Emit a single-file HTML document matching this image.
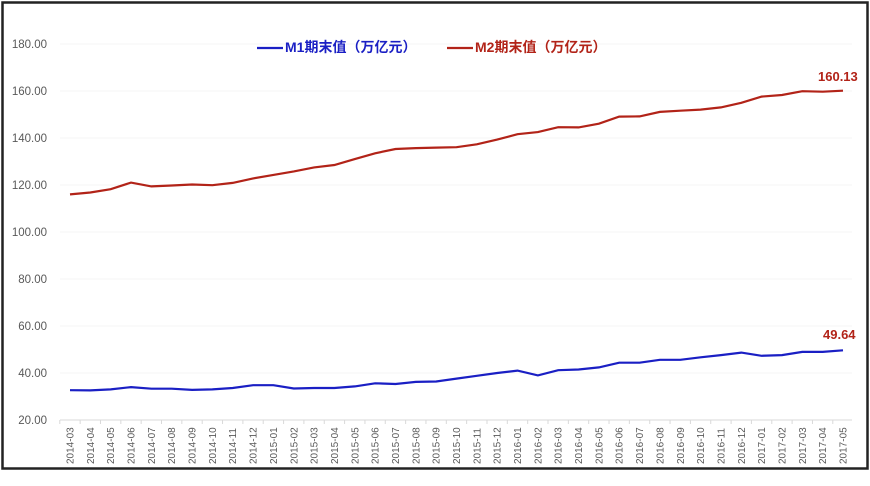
<!DOCTYPE html>
<html><head><meta charset="utf-8"><style>
html,body{margin:0;padding:0;background:#fff;}
svg{display:block;font-family:"Liberation Sans","Noto Sans CJK SC",sans-serif;}
</style></head><body>
<svg width="870" height="486" viewBox="0 0 870 486" xmlns="http://www.w3.org/2000/svg">
<rect x="2.5" y="2.5" width="865" height="466" fill="#fff" stroke="#222" stroke-width="2.5"/>
<g id="grid" stroke="#f4f4f4" stroke-width="1"></g>
<line x1="60" y1="420" x2="852" y2="420" stroke="#d9d9d9"/>
<g id="ylab" font-size="11.5" fill="#595959" text-anchor="end"></g>
<g id="xlab" font-size="10" fill="#595959"></g>
<polyline id="m2" fill="none" stroke="#b22318" stroke-width="2.2"/>
<polyline id="m1" fill="none" stroke="#1a1fc4" stroke-width="2.2"/>
<line x1="257" y1="48" x2="283" y2="48" stroke="#1a1fc4" stroke-width="2.2"/>
<text x="285" y="52" font-size="14" font-weight="bold" fill="#1a1fc4">M1期末值（万亿元）</text>
<line x1="447" y1="48" x2="473" y2="48" stroke="#b22318" stroke-width="2.2"/>
<text x="475" y="52" font-size="14" font-weight="bold" fill="#b22318">M2期末值（万亿元）</text>
<text x="818" y="81" font-size="13" font-weight="bold" fill="#b22318">160.13</text>
<text x="823" y="339" font-size="13" font-weight="bold" fill="#b22318">49.64</text>
</svg>
<script>
var m1=[32.7,32.6,33,34,33.3,33.3,32.8,33,33.6,34.8,34.8,33.4,33.6,33.6,34.3,35.6,35.3,36.2,36.4,37.6,38.8,40,41,39,41.2,41.5,42.4,44.4,44.4,45.6,45.6,46.7,47.6,48.7,47.3,47.6,49,49,49.64];
var m2=[116,116.8,118.2,121,119.4,119.8,120.2,119.9,120.9,122.8,124.3,125.8,127.5,128.5,131,133.5,135.3,135.7,135.9,136.1,137.3,139.3,141.6,142.5,144.6,144.5,146.1,149.1,149.2,151.1,151.6,152.1,153.0,155.0,157.6,158.3,159.9,159.7,160.13];
function X(i){return 70+i*(843-70)/38;}
function Y(v){return 420-(v-20)*(376/160);}
var ns="http://www.w3.org/2000/svg";
function pts(a){return a.map(function(v,i){return X(i).toFixed(1)+","+Y(v).toFixed(1)}).join(" ");}
document.getElementById("m1").setAttribute("points",pts(m1));
document.getElementById("m2").setAttribute("points",pts(m2));
var g=document.getElementById("grid"),yl=document.getElementById("ylab");
for(var v=20;v<=180;v+=20){
 if(v>20){var l=document.createElementNS(ns,"line");l.setAttribute("x1",60);l.setAttribute("x2",852);l.setAttribute("y1",Y(v));l.setAttribute("y2",Y(v));g.appendChild(l);}
 var t=document.createElementNS(ns,"text");t.setAttribute("x",47);t.setAttribute("y",Y(v)+4);t.textContent=v.toFixed(2);yl.appendChild(t);
}
var xl=document.getElementById("xlab");
for(var i=0;i<39;i++){
 var mo=i+2,yr=2014+Math.floor(mo/12),m=mo%12+1;
 var s=yr+"-"+(m<10?"0":"")+m;
 var t=document.createElementNS(ns,"text");
 var x=X(i)+3.5,y=464;
 t.setAttribute("transform","translate("+x+","+y+") rotate(-90)");
 t.textContent=s;xl.appendChild(t);
 var tk=document.createElementNS(ns,"line");tk.setAttribute("x1",X(i)-10.2);tk.setAttribute("x2",X(i)-10.2);tk.setAttribute("y1",420);tk.setAttribute("y2",424);tk.setAttribute("stroke","#d9d9d9");g.appendChild(tk);
}
</script>
</body></html>
